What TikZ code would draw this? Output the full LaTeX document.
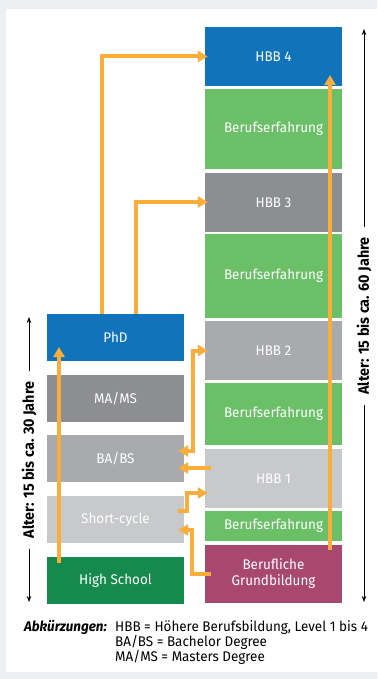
\documentclass[tikz,border=0pt]{standalone}
\usepackage{fontspec}
\setmainfont{Fira Sans}[FakeStretch=0.96]
\usetikzlibrary{arrows.meta}

\definecolor{bgpanel}{HTML}{ECF0F3}
\definecolor{hbbblue}{HTML}{1173BA}
\definecolor{workgreen}{HTML}{6BBF67}
\definecolor{greydark}{HTML}{8D8E91}
\definecolor{greymid}{HTML}{A9AAAD}
\definecolor{greylight}{HTML}{C8C9CB}
\definecolor{schoolgreen}{HTML}{168A4D}
\definecolor{basicpurple}{HTML}{A84870}
\definecolor{pathorange}{HTML}{FBAD3B}

\tikzset{
  tier/.style={draw=none, minimum width=137pt, inner sep=0pt, text=white,
    font=\fontsize{14}{16}\selectfont, align=center},
  route/.style={draw=pathorange, line width=4pt,
    -{Triangle[length=10pt,width=11pt]}},
  route2/.style={draw=pathorange, line width=4pt,
    {Triangle[length=10pt,width=11pt]}-{Triangle[length=10pt,width=11pt]}},
  agelabel/.style={font=\bfseries\fontsize{15}{17}\selectfont, rotate=90, inner sep=0pt},
  agerule/.style={draw=black, line width=0.8pt, -{Stealth[length=6pt,width=4.5pt]}},
  note/.style={font=\fontsize{14}{15}\selectfont, inner sep=0pt}
}

\begin{document}
\begin{tikzpicture}[x=1pt,y=-1pt]
  % canvas and white panel
  \fill[bgpanel] (0,0) rectangle (377,679);
  \fill[white] (6,9) rectangle (377,672);
  \useasboundingbox (0,0) rectangle (377,679);

  % right column: vocational path
  \node[tier, fill=hbbblue,     minimum height=59pt] (hbb4)  at (273.5,56.5) {HBB 4};
  \node[tier, fill=workgreen,   minimum height=80pt] (work1) at (273.5,129)  {Berufserfahrung};
  \node[tier, fill=greydark,    minimum height=59pt] (hbb3)  at (273.5,202.5) {HBB 3};
  \node[tier, fill=workgreen,   minimum height=84pt] (work2) at (273.5,276)  {Berufserfahrung};
  \node[tier, fill=greymid,     minimum height=59pt] (hbb2)  at (273.5,350.5) {HBB 2};
  \node[tier, fill=workgreen,   minimum height=62pt] (work3) at (273.5,414)  {Berufserfahrung};
  \node[tier, fill=greylight,   minimum height=59pt] (hbb1)  at (273.5,478.5) {HBB 1};
  \node[tier, fill=workgreen,   minimum height=30pt] (work4) at (273.5,526)  {Berufserfahrung};
  \node[tier, fill=basicpurple, minimum height=58pt] (grund) at (273.5,574)  {Berufliche\\Grundbildung};

  % left column: academic path
  \node[tier, fill=hbbblue,     minimum height=47pt] (phd)   at (115.5,337.5) {PhD};
  \node[tier, fill=greydark,    minimum height=47pt] (mams)  at (115.5,398.5) {MA/MS};
  \node[tier, fill=greymid,     minimum height=47pt] (babs)  at (115.5,458.5) {BA/BS};
  \node[tier, fill=greylight,   minimum height=47pt] (short) at (115.5,519.5) {Short-cycle};
  \node[tier, fill=schoolgreen, minimum height=47pt] (high)  at (115.5,580.5) {High School};

  % transitions
  \draw[route] ([xshift=-13.5pt]phd.north) |- ([xshift=3pt]hbb4.west);
  \draw[route] ([xshift=20.5pt]phd.north) |- ([xshift=3pt,yshift=0.5pt]hbb3.west);
  \draw[route] ([xshift=-56.5pt,yshift=-6pt]high.north) -- ([xshift=-56.5pt,yshift=-9.5pt]phd.center);
  \draw[route] ([xshift=56.5pt,yshift=-5pt]grund.north) -- ([xshift=56.5pt,yshift=-18.5pt]hbb4.center);
  \draw[route2] ([xshift=3pt]hbb2.west) -- (193,350.5) |- ([xshift=-6pt,yshift=7.5pt]babs.east);
  \draw[route] ([xshift=6pt,yshift=10.5pt]hbb1.west) -- ([xshift=-6pt,yshift=-9.5pt]babs.east);
  \draw[route] ([xshift=-6pt,yshift=8.5pt]short.east) -- (187,511) |- ([xshift=3pt,yshift=-14.5pt]hbb1.west);
  \draw[route] ([xshift=6pt]grund.west) -- (192,574) |- ([xshift=-6pt,yshift=-10.5pt]short.east);

  % age spans
  \node[agelabel] (ageL) at (29,460) {Alter: 15 bis ca. 30 Jahre};
  \coordinate (ageLtop) at (29,317);
  \coordinate (ageLbot) at (29,602);
  \draw[agerule] ([yshift=10pt]ageL.east) -- (ageLtop);
  \draw[agerule] ([yshift=-10pt]ageL.west) -- (ageLbot);

  \node[agelabel] (ageR) at (364,316) {Alter: 15 bis ca. 60 Jahre};
  \coordinate (ageRtop) at (364,29);
  \coordinate (ageRbot) at (364,602);
  \draw[agerule] ([yshift=10pt]ageR.east) -- (ageRtop);
  \draw[agerule] ([yshift=-10pt]ageR.west) -- (ageRbot);

  % abbreviations
  \node[note, anchor=base east, font=\bfseries\itshape\fontsize{14}{15}\selectfont] (abbr) at (107,631) {Abkürzungen:};
  \node[note, anchor=base west] (abbr1) at (115,631) {HBB = Höhere Berufsbildung, Level 1 bis 4};
  \node[note, anchor=base west] (abbr2) at (115,646) {BA/BS = Bachelor Degree};
  \node[note, anchor=base west] (abbr3) at (115,661) {MA/MS = Masters Degree};
\end{tikzpicture}
\end{document}
